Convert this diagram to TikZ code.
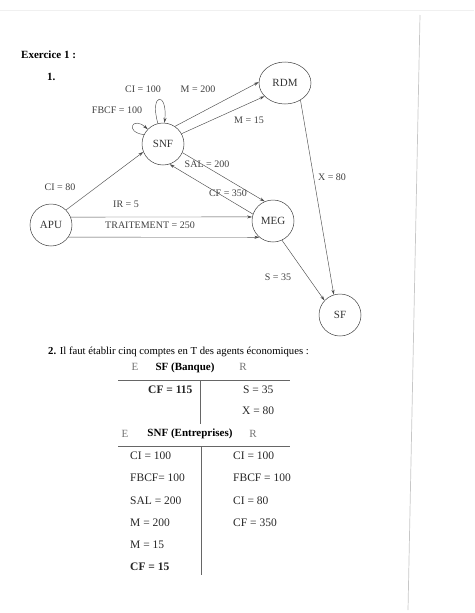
\documentclass[tikz,border=0pt]{standalone}
\usepackage{fontspec}
\setmainfont{Liberation Serif}
\usetikzlibrary{arrows.meta,shapes.geometric}

\tikzset{
  agent/.style={draw=black!75, circle, minimum size=42pt, inner sep=0,
                line width=0.5pt, font=\fontsize{11}{13}\selectfont, text=black!80},
  agent ell/.style={agent, ellipse, minimum width=52pt, minimum height=42pt},
  flow/.style={-{Stealth[length=5pt,width=3pt]}, black!70, line width=0.45pt},
  flab/.style={font=\fontsize{10}{12}\selectfont, text=black!75, inner sep=1pt},
  ptext/.style={font=\fontsize{10.7}{13}\selectfont, anchor=west, inner sep=0},
  ttext/.style={font=\fontsize{11.5}{13}\selectfont, anchor=west, inner sep=0, text=black!85},
  thead/.style={font=\fontsize{11}{13}\selectfont\bfseries, inner sep=0},
  tletter/.style={font=\fontsize{11}{13}\selectfont, text=black!55, inner sep=0},
  trule/.style={black!60, line width=0.8pt},
}

\begin{document}
\begin{tikzpicture}[x=1pt,y=1pt]
    % page frame, 1 unit = 1 px of the scan, origin top left
    \useasboundingbox (0,0) rectangle (474,-613);
    \draw[black!6, line width=0.5pt] (0,-10) -- (474,-10);
    \draw[black!22, line width=0.7pt] (420,-15) -- (408,-610);

    % === Headings ===
    \node[ptext, font=\fontsize{11}{13}\selectfont\bfseries] (title) at (21,-55) {Exercice 1 :};
    \node[ptext, font=\fontsize{11}{13}\selectfont\bfseries] (q1) at (47,-77) {1.};
    \node[ptext] (q2) at (48,-352)
      {\textbf{2.} Il faut établir cinq comptes en T des agents économiques :};

    % === Agents ===
    \node[agent ell] (rdm) at (285,-83)  {RDM};
    \node[agent]     (snf) at (163,-144) {SNF};
    \node[agent]     (apu) at (51,-225)  {APU};
    \node[agent]     (meg) at (273,-221) {MEG};
    \node[agent]     (sf)  at (340,-315) {SF};

    % === Flows ===
    \draw[flow] (snf.56)  -- (rdm.178);
    \draw[flow] (snf.29)  -- (rdm.213);
    \draw[flow] (snf.336) -- (meg.113);
    \draw[flow] (meg.161) -- (snf.288);
    \draw[flow] (apu.45)  -- (snf.202);
    \draw[flow] (apu.22)  -- (meg.169);
    \draw[flow] (apu.325) -- (meg.230);
    \draw[flow] (meg.295) -- (sf.137);
    \draw[flow] (rdm.312) -- (sf.107);
    % loops on SNF (CI and FBCF)
    \draw[flow] (snf.104) to[out=106, in=84, distance=32pt] (snf.86);
    \draw[flow] (snf.154) to[out=172, in=138, distance=20pt] (snf.136);

    % flow labels
    \node[flab] (lci)    at (143,-89)  {CI = 100};
    \node[flab] (lm200)  at (198,-89)  {M = 200};
    \node[flab] (lfbcf)  at (117,-110) {FBCF = 100};
    \node[flab] (lm15)   at (249,-120) {M = 15};
    \node[flab] (lsal)   at (207,-164) {SAL = 200};
    \node[flab] (lcf)    at (228,-193) {CF = 350};
    \node[flab] (lci80)  at (60,-187)  {CI = 80};
    \node[flab] (lir)    at (126,-204) {IR = 5};
    \node[flab] (ltrait) at (150,-225) {TRAITEMENT = 250};
    \node[flab] (ls)     at (278,-277) {S = 35};
    \node[flab] (lx)     at (332,-177) {X = 80};

    % === T account: SF ===
    \node[tletter] (sfE) at (135,-367) {E};
    \node[thead]   (sfT) at (185,-368) {SF (Banque)};
    \node[tletter] (sfR) at (243,-367) {R};
    \draw[trule] (118,-380) -- (290,-380);
    \draw[trule] (200,-380) -- (200,-424);
    \node[ttext, font=\fontsize{11.5}{13}\selectfont\bfseries] (sfL1) at (148,-390) {CF = 115};
    \node[ttext] (sfR1) at (243,-390) {S = 35};
    \node[ttext] (sfR2) at (242,-411) {X = 80};

    % === T account: SNF ===
    \node[tletter] (snfE) at (125,-434) {E};
    \node[thead]   (snfT) at (190,-434) {SNF (Entreprises)};
    \node[tletter] (snfR) at (253,-434) {R};
    \draw[trule] (118,-446) -- (290,-446);
    \draw[trule] (201,-446) -- (201,-575);
    \foreach \txt [count=\i] in {CI = 100, FBCF= 100, SAL = 200, M = 200, M = 15} {
      \node[ttext] (snfL\i) at (130,{-456-22.2*(\i-1)}) {\txt};
    }
    \node[ttext, font=\fontsize{11.5}{13}\selectfont\bfseries] (snfL6) at (130,-567) {CF = 15};
    \foreach \txt [count=\i] in {CI = 100, FBCF = 100, CI = 80, CF = 350} {
      \node[ttext] (snfR\i) at (233,{-456-22.2*(\i-1)}) {\txt};
    }
\end{tikzpicture}
\end{document}
